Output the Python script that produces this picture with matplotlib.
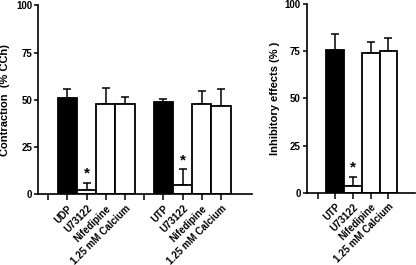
import matplotlib
matplotlib.use("Agg")
import matplotlib.pyplot as plt
import numpy as np

plt.rcParams['font.family'] = ['Liberation Sans', 'DejaVu Sans']
plt.rcParams['font.weight'] = 'bold'

# Left panel data
left_labels = ["", "UDP", "U73122", "Nifedipine", "1.25 mM Calcium",
               "", "UTP", "U73122", "Nifedipine", "1.25 mM Calcium"]
left_values = [0, 50.8, 2.4, 47.6, 47.9, 0, 48.8, 5.1, 47.6, 46.6]
left_errors = [0, 4.9, 3.6, 8.8, 3.7, 0, 1.8, 8.1, 7.1, 9.0]
left_colors = ["none", "black", "white", "white", "white",
               "none", "black", "white", "white", "white"]
left_show = [False, True, True, True, True, False, True, True, True, True]
left_star = [2, 7]

# Right panel data
right_labels = ["", "UTP", "U73122", "Nifedipine", "1.25 mM Calcium"]
right_values = [0, 75.7, 3.5, 74.3, 75.2]
right_errors = [0, 8.7, 5.0, 5.9, 7.1]
right_colors = ["none", "black", "white", "white", "white"]
right_show = [False, True, True, True, True]
right_star = [2]

yticks = [0, 25, 50, 75, 100]

fig = plt.figure(figsize=(4.16, 2.65), dpi=100)
axL = fig.add_axes([38.3/416, 1-194.3/265, 213.4/416, 189/265])
axR = fig.add_axes([307/416, 1-192.7/265, 108/416, 188.4/265])


def draw(ax, labels, values, errors, colors, show, stars, xlim, ylabel, lx):
    x = np.arange(len(labels))
    for i in range(len(labels)):
        if not show[i]:
            continue
        ax.bar(x[i], values[i], width=1.0, color=colors[i], edgecolor='black',
               linewidth=1.3, zorder=2)
        ax.errorbar(x[i], values[i], yerr=[[0], [errors[i]]], fmt='none',
                    ecolor='black', elinewidth=1.1, capsize=3, capthick=1.1, zorder=1)
    for i in stars:
        ax.text(x[i], values[i] + errors[i] + 4.8, "*", ha='center', va='center',
                fontsize=11, fontweight='bold')
    ax.set_xlim(*xlim)
    ax.set_ylim(0, 100)
    ax.set_yticks(yticks)
    ax.set_xticks(x)
    ax.set_xticklabels(labels, rotation=45, ha='right', rotation_mode='anchor',
                       fontsize=7, fontweight='bold')
    for t in ax.get_yticklabels():
        t.set_fontsize(7)
        t.set_fontweight('bold')
    ax.spines['top'].set_visible(False)
    ax.spines['right'].set_visible(False)
    ax.spines['left'].set_linewidth(1.2)
    ax.spines['bottom'].set_linewidth(1.2)
    ax.tick_params(axis='x', length=4.5, width=1.1, pad=2)
    ax.tick_params(axis='y', length=3, width=1.1, pad=1.5)
    ax.set_ylabel(ylabel, fontsize=8, fontweight='bold')
    ax.yaxis.set_label_coords(lx, 0.5)


draw(axL, left_labels, left_values, left_errors, left_colors, left_show, left_star,
     (-0.52, 10.6), "Contraction  (% CCh)", -28.5/213.4)
draw(axR, right_labels, right_values, right_errors, right_colors, right_show, right_star,
     (-0.6, 5.5), "Inhibitory effects (% )", -27/108)

fig.savefig("out.png", dpi=100)
